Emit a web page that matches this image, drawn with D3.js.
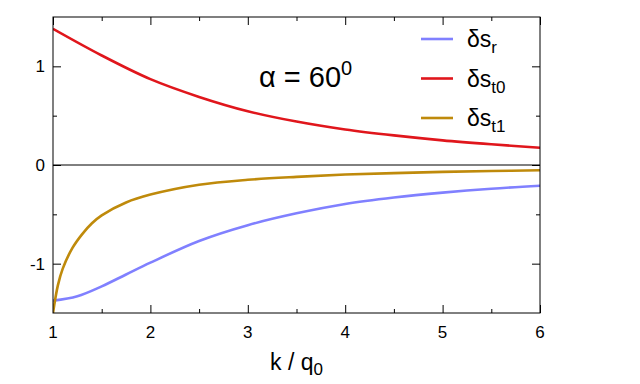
<!DOCTYPE html>
<html>
<head>
<meta charset="utf-8">
<script src="https://cdn.jsdelivr.net/npm/d3@7"></script>
<style>
  body { margin: 0; background: #fff; }
  text { font-family: "Liberation Sans", Arial, sans-serif; fill: #000; }
</style>
</head>
<body>
<svg id="chart"></svg>
<script>
// values
var kValues    = [1, 1.25, 1.5, 1.75, 2, 2.5, 3, 3.5, 4, 4.5, 5, 5.5, 6];
var dsR        = [-1.375, -1.33, -1.23, -1.11, -0.99, -0.77, -0.61, -0.49, -0.395, -0.33, -0.28, -0.24, -0.21];
var kT0        = [1, 1.5, 2, 2.5, 3, 3.5, 4, 4.5, 5, 5.5, 6];
var dsT0       = [1.38, 1.11, 0.87, 0.69, 0.545, 0.44, 0.36, 0.30, 0.25, 0.21, 0.175];
var kT1        = [1, 1.05, 1.1, 1.2, 1.3, 1.4, 1.5, 1.75, 2, 2.5, 3, 3.5, 4, 4.5, 5, 5.5, 6];
var dsT1       = [-1.5, -1.22, -1.05, -0.84, -0.70, -0.59, -0.51, -0.38, -0.30, -0.20, -0.15, -0.12, -0.097, -0.082, -0.07, -0.061, -0.053];
var xTicks     = [1, 2, 3, 4, 5, 6];
var yTicks     = [-1, 0, 1];
var seriesNames = [["δs", "r"], ["δs", "t0"], ["δs", "t1"]];
var seriesColors = ["#8080ff", "#e0161c", "#bf8a0b"];

var width = 640, height = 384;
var margin = {top: 17, right: 100, bottom: 71, left: 53},
    innerwidth = width - margin.left - margin.right,
    innerheight = height - margin.top - margin.bottom;

var x = d3.scaleLinear().domain([1, 6]).range([0, innerwidth]);
var y = d3.scaleLinear().domain([-1.5, 1.5]).range([innerheight, 0]);

var svg = d3.select("#chart")
    .attr("width", width)
    .attr("height", height)
    .append("g")
    .attr("transform", "translate(" + margin.left + "," + margin.top + ")");

var defs = svg.append("defs");
defs.append("clipPath").attr("id", "clip")
    .append("rect").attr("width", innerwidth).attr("height", innerheight);

// ticks (gnuplot style, mirrored, pointing inward)
var xMinor = d3.range(1.5, 6, 1);
var yMinor = [-0.5, 0.5];
function tickAxis(axisFn, scale, values, size) {
    return axisFn(scale).tickValues(values).tickSize(size).tickFormat("");
}
var ticks = svg.append("g").attr("class", "ticks");
ticks.append("g").attr("transform", "translate(0," + innerheight + ")").call(tickAxis(d3.axisTop, x, xTicks, 8));
ticks.append("g").attr("transform", "translate(0," + innerheight + ")").call(tickAxis(d3.axisTop, x, xMinor, 4));
ticks.append("g").call(tickAxis(d3.axisBottom, x, xTicks, 8));
ticks.append("g").call(tickAxis(d3.axisBottom, x, xMinor, 4));
ticks.append("g").call(tickAxis(d3.axisRight, y, yTicks, 8));
ticks.append("g").call(tickAxis(d3.axisRight, y, yMinor, 4));
ticks.append("g").attr("transform", "translate(" + innerwidth + ",0)").call(tickAxis(d3.axisLeft, y, yTicks, 8));
ticks.append("g").attr("transform", "translate(" + innerwidth + ",0)").call(tickAxis(d3.axisLeft, y, yMinor, 4));
ticks.selectAll(".domain").remove();
ticks.selectAll("line").attr("stroke", "#000").attr("stroke-width", 1);

// tick labels
svg.append("g").selectAll("text")
    .data(xTicks).enter().append("text")
    .attr("x", function(d) { return x(d); })
    .attr("y", innerheight + 25)
    .attr("text-anchor", "middle")
    .style("font-size", "17px")
    .text(function(d) { return d; });

svg.append("g").selectAll("text")
    .data(yTicks).enter().append("text")
    .attr("x", -8)
    .attr("y", function(d) { return y(d); })
    .attr("dy", "0.36em")
    .attr("text-anchor", "end")
    .style("font-size", "17px")
    .text(function(d) { return d; });

// zero line
svg.append("line")
    .attr("x1", 0).attr("x2", innerwidth)
    .attr("y1", y(0)).attr("y2", y(0))
    .attr("stroke", "#000").attr("stroke-width", 1);

// curves
var datasets = [
    d3.zip(kValues, dsR),
    d3.zip(kT0, dsT0),
    d3.zip(kT1, dsT1)
];
var draw_line = d3.line()
    .curve(d3.curveCatmullRom.alpha(0.5))
    .x(function(d) { return x(d[0]); })
    .y(function(d) { return y(d[1]); });

svg.append("g").attr("clip-path", "url(#clip)")
    .selectAll("path")
    .data(datasets).enter().append("path")
    .attr("fill", "none")
    .attr("stroke-width", 2.6)
    .attr("stroke", function(_, i) { return seriesColors[i]; })
    .attr("d", draw_line);

// border
svg.append("rect")
    .attr("width", innerwidth).attr("height", innerheight)
    .attr("fill", "none").attr("stroke", "#000").attr("stroke-width", 1);

// legend
var legend = svg.append("g").attr("transform", "translate(368,22)");
var entries = legend.selectAll("g")
    .data(seriesNames).enter().append("g")
    .attr("transform", function(_, i) { return "translate(0," + (i * 39.5) + ")"; });
entries.append("line")
    .attr("x1", 0).attr("x2", 32)
    .attr("stroke-width", 2.6)
    .attr("stroke", function(_, i) { return seriesColors[i]; });
var lt = entries.append("text")
    .attr("x", 46)
    .attr("y", 8)
    .style("font-size", "23px");
lt.append("tspan").text(function(d) { return d[0]; });
lt.append("tspan")
    .attr("dy", 6)
    .style("font-size", "17px")
    .text(function(d) { return d[1]; });

// annotation
var ann = svg.append("text")
    .attr("x", 206)
    .attr("y", 70)
    .style("font-size", "29px");
ann.append("tspan").text("α = 60");
ann.append("tspan").attr("dy", -12).style("font-size", "20px").text("0");

// x axis label
var xl = svg.append("text")
    .attr("x", innerwidth / 2)
    .attr("y", innerheight + 57)
    .attr("text-anchor", "middle")
    .style("font-size", "23px");
xl.append("tspan").text("k / q");
xl.append("tspan").attr("dy", 5).style("font-size", "17px").text("0");
</script>
</body>
</html>
